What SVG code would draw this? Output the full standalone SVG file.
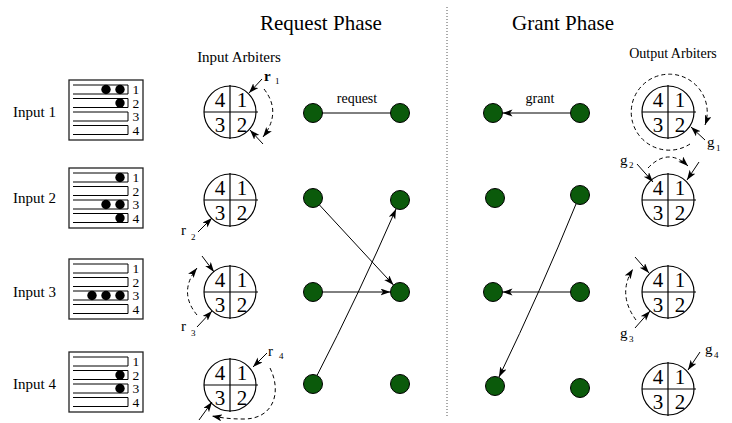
<svg xmlns="http://www.w3.org/2000/svg" width="732" height="423" viewBox="0 0 732 423" font-family="'Liberation Serif', 'Times New Roman', Times, serif">
<style>
text{font-family:'Liberation Serif','Times New Roman',Times,serif;fill:#000}
.qn{font-size:13.5px}
.dg{font-size:21px;text-anchor:middle}
.ttl{font-size:21px;text-anchor:middle}
.lbl{font-size:14px}
.inl{font-size:15px}
.mid{text-anchor:middle}
.sub{font-size:9px}
.node{fill:#0b5a0b;stroke:#000;stroke-width:1}
.dot{fill:#000}
.ar{fill:none;stroke:#000;stroke-width:1;marker-end:url(#ah)}
.da{fill:none;stroke:#000;stroke-width:1;stroke-dasharray:4,3;marker-end:url(#ah)}
.ln{fill:none;stroke:#000;stroke-width:1}
</style>
<defs>
<marker id="ah" markerUnits="userSpaceOnUse" markerWidth="11" markerHeight="8" refX="10" refY="3.5" orient="auto">
<path d="M0,0 L10,3.5 L0,7 L2.5,3.5 z" fill="#000"/>
</marker>
<g id="queue">
<rect x="69" y="0" width="74" height="60" fill="#fff" stroke="#222" stroke-width="1.3"/>
<path d="M73,5 H128 V14 H73 M73,18.5 H128 V27.5 H73 M73,32 H128 V41 H73 M73,45.5 H128 V54.5 H73" fill="none" stroke="#000" stroke-width="1"/>
<text x="132.5" y="14" class="qn">1</text>
<text x="132.5" y="27.5" class="qn">2</text>
<text x="132.5" y="41" class="qn">3</text>
<text x="132.5" y="54.5" class="qn">4</text>
</g>
<g id="arb">
<circle cx="0" cy="0" r="26" fill="#fff" stroke="#000" stroke-width="1.2"/>
<path d="M0,-27 V27 M-26,0 H28" stroke="#000" stroke-width="1.2"/>
<text x="-10" y="-5" class="dg">4</text>
<text x="12" y="-5" class="dg">1</text>
<text x="-10" y="20" class="dg">3</text>
<text x="12" y="20" class="dg">2</text>
</g>
</defs>
<rect width="732" height="423" fill="#fff"/>

<text x="321" y="30" class="ttl">Request Phase</text>
<text x="563" y="30" class="ttl">Grant Phase</text>
<line x1="447" y1="7" x2="447" y2="418" stroke="#555" stroke-width="1" stroke-dasharray="1,2"/>
<text x="239" y="62" class="inl mid">Input Arbiters</text>
<text x="673" y="58" class="lbl mid">Output Arbiters</text>

<g id="input1">
<text x="13" y="117" class="inl">Input 1</text>
<use href="#queue" y="80"/>
<circle cx="106" cy="89.5" r="4.7" class="dot"/><circle cx="120" cy="89.5" r="4.7" class="dot"/>
<circle cx="120" cy="103" r="4.7" class="dot"/>
</g>
<g id="input2">
<text x="13" y="203" class="inl">Input 2</text>
<use href="#queue" y="168"/>
<circle cx="120" cy="177.5" r="4.7" class="dot"/>
<circle cx="106" cy="204.5" r="4.7" class="dot"/><circle cx="120" cy="204.5" r="4.7" class="dot"/>
<circle cx="120" cy="218" r="4.7" class="dot"/>
</g>
<g id="input3">
<text x="13" y="297" class="inl">Input 3</text>
<use href="#queue" y="259"/>
<circle cx="92" cy="295.5" r="4.7" class="dot"/><circle cx="106" cy="295.5" r="4.7" class="dot"/><circle cx="120" cy="295.5" r="4.7" class="dot"/>
</g>
<g id="input4">
<text x="13" y="389" class="inl">Input 4</text>
<use href="#queue" y="352"/>
<circle cx="120" cy="375" r="4.7" class="dot"/>
<circle cx="120" cy="388.5" r="4.7" class="dot"/>
</g>

<g id="inarb1">
<use href="#arb" x="230" y="112"/>
<path d="M262,79 L249,93" class="ar"/>
<path d="M264,89 Q282,112 263,137" class="da"/>
<path d="M263,144 L250,130" class="ar"/>
<text x="264" y="81" class="inl" font-weight="bold">r</text><text x="275" y="84" class="sub">1</text>
</g>
<g id="inarb2">
<use href="#arb" x="230" y="200"/>
<path d="M198,232 L212,218" class="ar"/>
<text x="181" y="235" class="inl">r</text><text x="191" y="240" class="sub">2</text>
</g>
<g id="inarb3">
<use href="#arb" x="230" y="292"/>
<path d="M202,256 L214,272" class="ar"/>
<path d="M197,315 Q178,292 197,268" class="da"/>
<path d="M197,327 L212,311" class="ar"/>
<text x="181" y="331" class="inl">r</text><text x="191" y="336" class="sub">3</text>
</g>
<g id="inarb4">
<use href="#arb" x="230" y="385"/>
<path d="M267,353 L253,367" class="ar"/>
<path d="M270,368 C282,392 274,420 242,419 C232,419 222,418 212,416" class="da"/>
<path d="M199,420 L212,402" class="ar"/>
<text x="268" y="356" class="inl">r</text><text x="279" y="359" class="sub">4</text>
</g>

<g id="outarb1">
<use href="#arb" x="668" y="112"/>
<path d="M690,144 A38,38 0 1 1 705,125" class="da"/>
<path d="M705,140 L691,127" class="ar"/>
<text x="707" y="147" class="inl">g</text><text x="716" y="151" class="sub">1</text>
</g>
<g id="outarb2">
<use href="#arb" x="668" y="200"/>
<path d="M637,164 L653,182" class="ar"/>
<path d="M648,168 Q668,147 688,166" class="da"/>
<path d="M699,162 L687,180" class="ar"/>
<text x="620" y="165" class="inl">g</text><text x="629" y="168" class="sub">2</text>
</g>
<g id="outarb3">
<use href="#arb" x="668" y="292"/>
<path d="M635,257 L649,273" class="ar"/>
<path d="M636,320 Q617,294 633,269" class="da"/>
<path d="M635,328 L650,311" class="ar"/>
<text x="620" y="338" class="inl">g</text><text x="629" y="342" class="sub">3</text>
</g>
<g id="outarb4">
<use href="#arb" x="668" y="389"/>
<path d="M700,352 L688,370" class="ar"/>
<text x="705" y="354" class="inl">g</text><text x="714" y="358" class="sub">4</text>
</g>

<g id="connectors">
<path d="M313,113 H400" class="ln"/>
<path d="M319.5,205 L393.5,285" class="ar"/>
<path d="M322.5,292 H390.5" class="ar"/>
<path d="M317,375.5 Q358,296 396,209" class="ar"/>
<path d="M570.5,113 H502.5" class="ar"/>
<path d="M576,204 Q541,290 499,377" class="ar"/>
<path d="M570.5,292 H502.5" class="ar"/>
<text x="357" y="103" class="lbl mid">request</text>
<text x="540" y="103" class="lbl mid">grant</text>
</g>

<g id="req-in1"><circle cx="313" cy="113" r="9.5" class="node"/></g>
<g id="req-in2"><circle cx="313" cy="198" r="9.5" class="node"/></g>
<g id="req-in3"><circle cx="313" cy="292" r="9.5" class="node"/></g>
<g id="req-in4"><circle cx="313" cy="384" r="9.5" class="node"/></g>
<g id="req-out1"><circle cx="400" cy="113" r="9.5" class="node"/></g>
<g id="req-out2"><circle cx="400" cy="200" r="9.5" class="node"/></g>
<g id="req-out3"><circle cx="400" cy="292" r="9.5" class="node"/></g>
<g id="req-out4"><circle cx="400" cy="384" r="9.5" class="node"/></g>
<g id="gr-in1"><circle cx="493" cy="113" r="9.5" class="node"/></g>
<g id="gr-in2"><circle cx="495" cy="198" r="9.5" class="node"/></g>
<g id="gr-in3"><circle cx="493" cy="292" r="9.5" class="node"/></g>
<g id="gr-in4"><circle cx="495" cy="386" r="9.5" class="node"/></g>
<g id="gr-out1"><circle cx="580" cy="113" r="9.5" class="node"/></g>
<g id="gr-out2"><circle cx="580" cy="195" r="9.5" class="node"/></g>
<g id="gr-out3"><circle cx="580" cy="292" r="9.5" class="node"/></g>
<g id="gr-out4"><circle cx="580" cy="388" r="9.5" class="node"/></g>
</svg>
